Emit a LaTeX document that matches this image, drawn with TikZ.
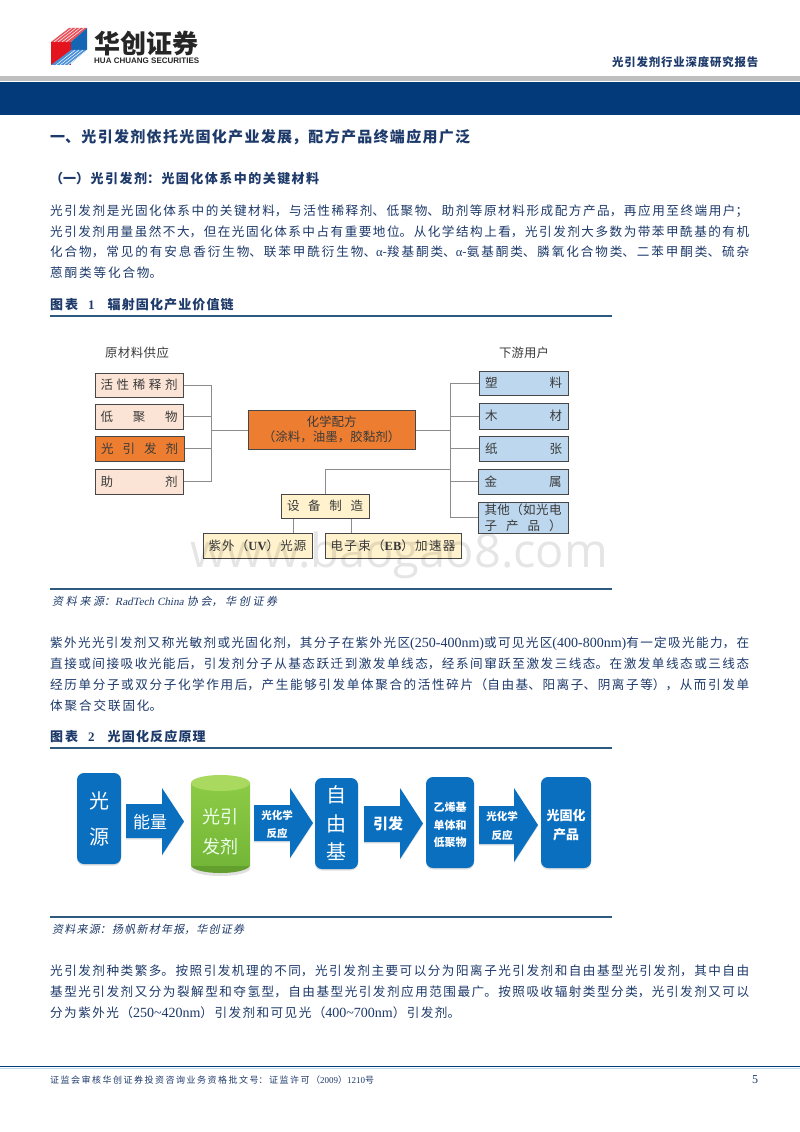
\documentclass[tikz,border=0pt]{standalone}
\usepackage{fontspec}
\usetikzlibrary{shadows}
\setmainfont{Liberation Serif}
\newfontfamily\cjk{Noto Sans CJK SC}
\newfontfamily\cjkit[FakeSlant=0.2]{Noto Sans CJK SC}
\newfontfamily\latit[FakeSlant=0.2]{Liberation Serif}
\newfontfamily\lats{Liberation Sans}
\newfontfamily\wmfont{Open Sans}
\newcommand{\lat}[1]{{\fontspec{Liberation Serif}#1}}
\newcommand{\latb}[1]{{\fontspec{Liberation Serif}\fontsize{14}{14}\selectfont #1}}
\XeTeXlinebreaklocale "zh"
\XeTeXlinebreakskip=0pt plus 8pt minus 1pt
\hbadness=10000 \vbadness=10000 \hfuzz=30pt \tolerance=10000
\definecolor{navy}{HTML}{1D3A6A}
\definecolor{band}{HTML}{033B7A}
\definecolor{rulec}{HTML}{2F5A80}
\definecolor{peach}{HTML}{FBE4D5}
\definecolor{cream}{HTML}{FFF2CC}
\definecolor{skyb}{HTML}{BDD7EE}
\definecolor{orng}{HTML}{ED7D31}
\definecolor{dtxt}{HTML}{3B3B3B}
\definecolor{conn}{HTML}{8C8C8C}
\definecolor{bblue}{HTML}{0B6FC0}
\definecolor{cyltop}{HTML}{A9D95F}
\definecolor{cylup}{HTML}{8CCB45}
\definecolor{cyllow}{HTML}{74B637}
\definecolor{cylbot}{HTML}{639F2E}
\definecolor{logored}{HTML}{E3141E}
\definecolor{logoblue}{HTML}{1565B5}
\definecolor{logolb}{HTML}{4A90D9}
\definecolor{logolr}{HTML}{E8505A}
\tikzset{
  bodytxt/.style={anchor=base west,inner sep=0pt,text=navy,font=\cjk\fontsize{12.6}{14}\selectfont},
  titletxt/.style={bodytxt,font=\cjk\bfseries\fontsize{15}{17}\selectfont},
  subtxt/.style={bodytxt,font=\cjk\bfseries\fontsize{13}{15}\selectfont},
  captxt/.style={bodytxt,font=\cjk\bfseries\fontsize{13}{14}\selectfont},
  srctxt/.style={bodytxt,font=\cjkit\fontsize{11}{12}\selectfont},
  foottxt/.style={bodytxt,font=\cjk\fontsize{9}{10}\selectfont},
  headtxt/.style={bodytxt,font=\cjk\bfseries\fontsize{11.4}{12}\selectfont},
  figbox/.style={draw=black!72,line width=1pt,inner sep=0pt,text=dtxt,align=center,font=\cjk\fontsize{12.5}{15.5}\selectfont},
  lblbox/.style={inner sep=0pt,text=dtxt,font=\cjk\fontsize{12.4}{14}\selectfont},
  conline/.style={draw=conn,line width=0.9pt},
  fluid/.style={fill=bblue,rounded corners=7pt,inner sep=0pt,text=white,align=center,
     drop shadow={shadow xshift=0pt,shadow yshift=-1.5pt,opacity=.25}},
  fluidarrow/.style={fill=bblue,drop shadow={shadow xshift=0pt,shadow yshift=-1.5pt,opacity=.2}},
  flowtxt/.style={inner sep=0pt,text=white,align=center},
  rulel/.style={draw=rulec,line width=1.3pt},
}
% justified one-line box of a given width
\newcommand{\jbox}[2]{\vbox{\hsize=#1pt\leftskip=0pt\rightskip=0pt\parindent=0pt\parfillskip=0pt\relax\leavevmode #2\par}}
% name, x, ycentre, width, content
\newcommand{\txtline}[6][bodytxt]{\node[#1] (#2) at (#3,{#4+4.4}) {\jbox{#5}{#6}};}
% name, x1,y1,x2,y2, style, content
\newcommand{\boxn}[7]{%
  \pgfmathsetmacro{\bw}{#4-#2}\pgfmathsetmacro{\bh}{#5-#3}%
  \pgfmathsetmacro{\bx}{(#2+#4)/2}\pgfmathsetmacro{\by}{(#3+#5)/2}%
  \node[#6,minimum width=\bw pt,minimum height=\bh pt] (#1) at (\bx,\by) {#7};}
% x0, xh, xt, y1, y2, ya, yb
\newcommand{\blockarrow}[7]{%
  \pgfmathsetmacro{\ym}{(#6+#7)/2}%
  \path[fluidarrow] (#1,#4) -- (#2,#4) -- (#2,#6) -- (#3,\ym) -- (#2,#7) -- (#2,#5) -- (#1,#5) -- cycle;}
\newcommand{\spr}[2]{\hbox to #1pt{#2}}
\begin{document}
\begin{tikzpicture}[x=1pt,y=-1pt]
\useasboundingbox (0,0) rectangle (800,1132);
\fill[white] (0,0) rectangle (800,1132);
% logo
\fill[logored] (51,42) -- (71,42) -- (71,65) -- (51,65) -- cycle;
\fill[logolr] (51,42) -- (69,28) -- (87,28) -- (71,42) -- cycle;
\fill[logoblue] (71,42) -- (87,28) -- (87,50) -- (71,50) -- cycle;
\fill[logolb] (51,65) -- (71,50) -- (87,50) -- (69,65) -- cycle;
\foreach \i in {0,1,2,3}{
  \draw[white,line width=.5pt] ({54+\i*4},42) -- ({72+\i*4},28);
  \draw[white,line width=.5pt] ({56+\i*4},65) -- ({75+\i*4},50);
}
\node[inner sep=0pt,anchor=base west,text=black!85,font=\cjk\bfseries\fontsize{26}{28}\selectfont] (logotxt) at (94,53) {华创证券};
\node[inner sep=0pt,anchor=base west,text=black!85,font=\lats\bfseries\fontsize{8}{9}\selectfont] (logoen) at (94,63.5) {\hbox to 105pt{HUA\hfill CHUANG\hfill SECURITIES}};
\txtline[headtxt]{head}{612}{62.5}{146}{光引发剂行业深度研究报告}
% header band
\fill[black!25] (0,76) rectangle (800,81);
\fill[band] (0,82) rectangle (800,114.5);
% title
\txtline[titletxt]{title}{50}{138}{420}{一、光引发剂依托光固化产业发展，配方产品终端应用广泛}
\txtline[subtxt]{subtitle}{50}{179}{269}{（一）光引发剂：光固化体系中的关键材料}
% para 1
\txtline{p1a}{50}{211}{698}{光引发剂是光固化体系中的关键材料，与活性稀释剂、低聚物、助剂等原材料形成配方产品，再应用至终端用户；}
\txtline{p1b}{50}{232}{699}{光引发剂用量虽然不大，但在光固化体系中占有重要地位。从化学结构上看，光引发剂大多数为带苯甲酰基的有机}
\txtline{p1c}{50}{252}{699}{化合物，常见的有安息香衍生物、联苯甲酰衍生物、\lat{α}-羧基酮类、\lat{α}-氨基酮类、膦氧化合物类、二苯甲酮类、硫杂}
\txtline{p1d}{50}{273}{112}{蒽酮类等化合物。}
% caption 1
\node[captxt] (cap1) at (50,309.4) {\jbox{28}{图表}\hspace{10pt}\lat{\bfseries 1}\hspace{13pt}\jbox{126}{辐射固化产业价值链}};
\draw[rulel] (50,316) -- (612,316);
% diagram 1
\node[lblbox] (hl) at (137,353) {\jbox{64}{原材料供应}};
\node[lblbox] (hr) at (524,353) {\jbox{50}{下游用户}};
\boxn{act}{95}{373}{183}{397}{figbox,fill=peach}{\spr{77}{活\hfill 性\hfill 稀\hfill 释\hfill 剂}}
\boxn{oli}{95}{404}{183}{429}{figbox,fill=peach}{\spr{77}{低\hfill 聚\hfill 物}}
\boxn{pho}{95}{436}{184}{461}{figbox,fill=orng}{\spr{77}{光\hfill 引\hfill 发\hfill 剂}}
\boxn{aid}{95}{469}{183}{494}{figbox,fill=peach}{\spr{77}{助\hfill 剂}}
\boxn{chem}{248}{410}{415}{449}{figbox,fill=orng}{化学配方\\（涂料，油墨，胶黏剂）}
\boxn{plas}{479}{371}{568}{395}{figbox,fill=skyb}{\spr{77}{塑\hfill 料}}
\boxn{wood}{479}{403}{568}{429}{figbox,fill=skyb}{\spr{77}{木\hfill 材}}
\boxn{pape}{479}{436}{568}{461}{figbox,fill=skyb}{\spr{77}{纸\hfill 张}}
\boxn{meta}{478}{469}{568}{494}{figbox,fill=skyb}{\spr{77}{金\hfill 属}}
\boxn{othr}{478}{502}{568}{533}{figbox,fill=skyb}{\spr{77}{其\hfill 他\hfill （\hfill 如\hfill 光\hfill 电}\\\spr{77}{子\hfill 产\hfill 品\hfill ）}}
\boxn{equi}{281}{494}{369}{518}{figbox,fill=cream}{\spr{76}{设\hfill 备\hfill 制\hfill 造}}
\boxn{uvl}{203}{533}{312}{558}{figbox,fill=cream}{\spr{98}{紫\hfill 外\hfill （\lat{\bfseries UV}）\hfill 光\hfill 源}}
\boxn{ebl}{325}{533}{461}{558}{figbox,fill=cream}{\spr{125}{电\hfill 子\hfill 束\hfill （\lat{\bfseries EB}）\hfill 加\hfill 速\hfill 器}}
\coordinate (busl) at (211,430);
\coordinate (busr) at (450,430);
\coordinate (juncr) at (450,469);
\coordinate (cuv) at (293,533);
\coordinate (ceb) at (351,533);
\draw[conline] (act.east) -- (act.east -| busl) -- (aid.east -| busl) -- (aid.east);
\draw[conline] (oli.east) -- (oli.east -| busl);
\draw[conline] (pho.east) -- (pho.east -| busl);
\draw[conline] (busl) -- (busl -| chem.west);
\draw[conline] (chem.east |- busr) -- (busr);
\draw[conline] (plas.west) -- (plas.west -| busr) -- (othr.west -| busr) -- (othr.west);
\draw[conline] (wood.west) -- (wood.west -| busr);
\draw[conline] (pape.west) -- (pape.west -| busr);
\draw[conline] (meta.west) -- (meta.west -| busr);
\draw[conline] (equi.north) |- (juncr);
\draw[conline] (cuv) -- (cuv |- equi.south);
\draw[conline] (ceb) -- (ceb |- equi.south);
\draw[rulel] (50,589) -- (612,589);
\txtline[srctxt]{src1}{52}{601}{225}{资料来源：{\latit RadTech China }协会，华创证券}
% para 2
\txtline{p2a}{50}{643}{699}{紫外光光引发剂又称光敏剂或光固化剂，其分子在紫外光区\latb{(250-400nm)}或可见光区\latb{(400-800nm)}有一定吸光能力，在}
\txtline{p2b}{50}{664}{699}{直接或间接吸收光能后，引发剂分子从基态跃迁到激发单线态，经系间窜跃至激发三线态。在激发单线态或三线态}
\txtline{p2c}{50}{685}{699}{经历单分子或双分子化学作用后，产生能够引发单体聚合的活性碎片（自由基、阳离子、阴离子等），从而引发单}
\txtline{p2d}{50}{706}{112}{体聚合交联固化。}
% caption 2
\node[captxt] (cap2) at (50,741.4) {\jbox{28}{图表}\hspace{10pt}\lat{\bfseries 2}\hspace{13pt}\jbox{98}{光固化反应原理}};
\draw[rulel] (50,748) -- (612,748);
% diagram 2
\boxn{ls}{77}{773}{121}{864}{fluid}{}
\node[flowtxt,font=\cjk\fontsize{20}{36}\selectfont] (lstx) at (ls) {光\\源};
\blockarrow{126}{162}{184}{804}{838}{788}{855}
\node[flowtxt,font=\cjk\fontsize{17}{20}\selectfont] (a1) at (150,822) {能量};
% cylinder
\fill[black,opacity=.12] (220.5,868) ellipse [x radius=30pt,y radius=8pt];
\fill[cylbot] (220.5,865) ellipse [x radius=29.5pt,y radius=8pt];
\shade[top color=cylup,bottom color=cyllow] (191,783) rectangle (250,865);
\fill[cyltop] (220.5,783) ellipse [x radius=29.5pt,y radius=8pt];
\node[flowtxt,text=white!92!green,font=\cjk\fontsize{18}{30}\selectfont] (pi) at (220.5,832) {光引\\发剂};
\blockarrow{254}{290}{313}{805}{841}{788}{858}
\node[flowtxt,font=\cjk\bfseries\fontsize{10.5}{18}\selectfont] (a2) at (277,824) {光化学\\反应};
\boxn{fr}{315}{778}{358}{869}{fluid}{}
\node[flowtxt,font=\cjk\fontsize{20}{28.5}\selectfont] (frtx) at (fr) {自\\由\\基};
\blockarrow{364}{400}{423}{806}{842}{788}{859}
\node[flowtxt,font=\cjk\bfseries\fontsize{15}{18}\selectfont] (a3) at (388,824) {引发};
\boxn{mono}{426}{777}{474}{868}{fluid}{}
\node[flowtxt,font=\cjk\bfseries\fontsize{11}{17.5}\selectfont] (motx) at (450,825) {乙烯基\\单体和\\低聚物};
\blockarrow{479}{514}{538}{806}{844}{788}{862}
\node[flowtxt,font=\cjk\bfseries\fontsize{10.5}{18}\selectfont] (a4) at (502,826) {光化学\\反应};
\boxn{prod}{541}{777}{591}{868}{fluid}{}
\node[flowtxt,font=\cjk\bfseries\fontsize{13}{19}\selectfont] (prtx) at (566,825) {光固化\\产品};
\draw[rulel] (50,917) -- (612,917);
\txtline[srctxt]{src2}{52}{929}{192}{资料来源：扬帆新材年报，华创证券}
% para 3
\txtline{p3a}{50}{971}{699}{光引发剂种类繁多。按照引发机理的不同，光引发剂主要可以分为阳离子光引发剂和自由基型光引发剂，其中自由}
\txtline{p3b}{50}{992}{699}{基型光引发剂又分为裂解型和夺氢型，自由基型光引发剂应用范围最广。按照吸收辐射类型分类，光引发剂又可以}
\txtline{p3c}{50}{1013}{410}{分为紫外光（\latb{250\textasciitilde420nm}）引发剂和可见光（\latb{400\textasciitilde700nm}）引发剂。}
% footer
\draw[band,line width=1.6pt] (0,1066.5) -- (800,1066.5);
\draw[skyb,line width=1pt] (0,1068) -- (800,1068);
\txtline[foottxt]{foot}{50}{1079}{324}{证监会审核华创证券投资咨询业务资格批文号：证监许可（\lat{2009}）\lat{1210}号}
\node[bodytxt,font=\rmfamily\fontsize{12}{14}\selectfont] (pgn) at (752,1083) {5};
% watermark
\node[inner sep=0pt,anchor=base west,text=black,opacity=.10,font=\wmfont\fontsize{47}{50}\selectfont] (wm) at (190,567) {www.baogao8.com};
\end{tikzpicture}
\end{document}
